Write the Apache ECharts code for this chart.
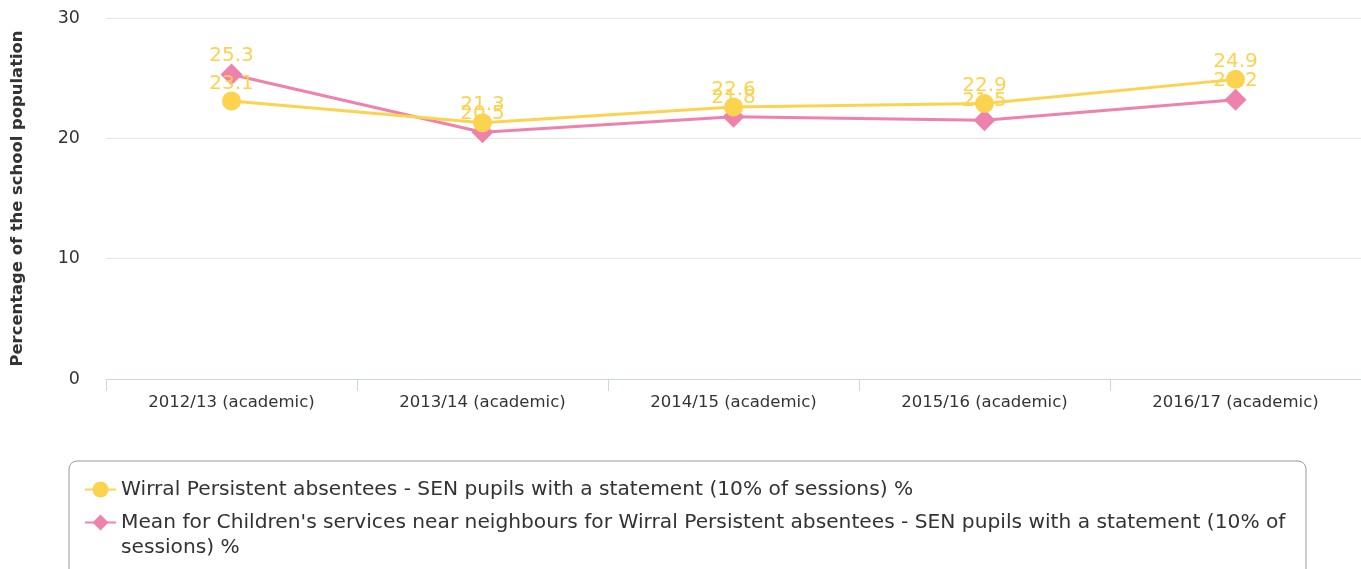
<!DOCTYPE html>
<html>
<head>
<meta charset="utf-8">
<script src="https://cdn.jsdelivr.net/npm/echarts@6/dist/echarts.min.js"></script>
<style>
  html, body { margin: 0; padding: 0; background: #fff; }
  #chart { width: 1361px; height: 569px; }
</style>
</head>
<body>
<div id="chart"></div>
<script>
const categories = ['2012/13 (academic)', '2013/14 (academic)', '2014/15 (academic)', '2015/16 (academic)', '2016/17 (academic)'];
const wirralValues = [23.1, 21.3, 22.6, 22.9, 24.9];
const neighbourValues = [25.3, 20.5, 21.8, 21.5, 23.2];
const seriesNames = [
  'Wirral Persistent absentees - SEN pupils with a statement (10% of sessions) %',
  "Mean for Children's services near neighbours for Wirral Persistent absentees - SEN pupils with a statement (10% of sessions) %"
];
const yTicks = { min: 0, max: 30, interval: 10 };

const FONT = '"DejaVu Sans", sans-serif';
const YELLOW = '#fcd34e';
const PINK = '#ee82ac';

const chart = echarts.init(document.getElementById('chart'), null, { renderer: 'canvas' });

const labelStyle = {
  show: true,
  position: 'top',
  distance: -2,
  color: YELLOW,
  fontFamily: FONT,
  fontSize: 20
};

chart.setOption({
  animation: false,
  textStyle: { fontFamily: FONT },
  grid: { left: 106, right: 0, top: 18, bottom: 190, containLabel: false },
  xAxis: {
    type: 'category',
    data: categories,
    boundaryGap: true,
    axisLine: { show: true, lineStyle: { color: '#ccd6eb', width: 1 } },
    axisTick: { show: true, length: 12, lineStyle: { color: '#ccd6eb' } },
    axisLabel: { color: '#333', fontFamily: FONT, fontSize: 16.5, margin: 15 },
    splitLine: { show: false }
  },
  yAxis: {
    type: 'value',
    min: yTicks.min,
    max: yTicks.max,
    interval: yTicks.interval,
    name: 'Percentage of the school population',
    nameLocation: 'middle',
    nameGap: 80,
    nameTextStyle: { color: '#333', fontFamily: FONT, fontSize: 16.4, fontWeight: 'bold' },
    axisLine: { show: false },
    axisTick: { show: false },
    axisLabel: { color: '#333', fontFamily: FONT, fontSize: 17.5, margin: 26 },
    splitLine: { show: true, lineStyle: { color: '#e6e6e6', width: 1 } }
  },
  legend: {
    orient: 'vertical',
    left: 69,
    top: 461,
    width: 1236,
    height: 300,
    padding: [16, 10, 40, 15],
    itemGap: -17,
    itemWidth: 31,
    itemHeight: 20,
    backgroundColor: '#fff',
    borderColor: '#999',
    borderWidth: 1,
    borderRadius: 8,
    textStyle: {
      color: '#333',
      fontFamily: FONT,
      fontSize: 20.2,
      width: 1175,
      overflow: 'break',
      lineHeight: 25
    },
    // A leading blank line keeps the wrapped entry's marker level with its first line.
    formatter: name => (name === seriesNames[1] ? '\n' + name : name),
    data: seriesNames
  },
  series: [
    {
      name: seriesNames[0],
      type: 'line',
      data: wirralValues,
      color: YELLOW,
      lineStyle: { width: 3, color: YELLOW },
      symbol: 'circle',
      symbolSize: 19,
      itemStyle: { color: YELLOW },
      label: labelStyle,
      z: 3
    },
    {
      name: seriesNames[1],
      type: 'line',
      data: neighbourValues,
      color: PINK,
      lineStyle: { width: 3, color: PINK },
      symbol: 'diamond',
      symbolSize: 22,
      itemStyle: { color: PINK },
      label: labelStyle,
      z: 2
    }
  ]
});
</script>
</body>
</html>
